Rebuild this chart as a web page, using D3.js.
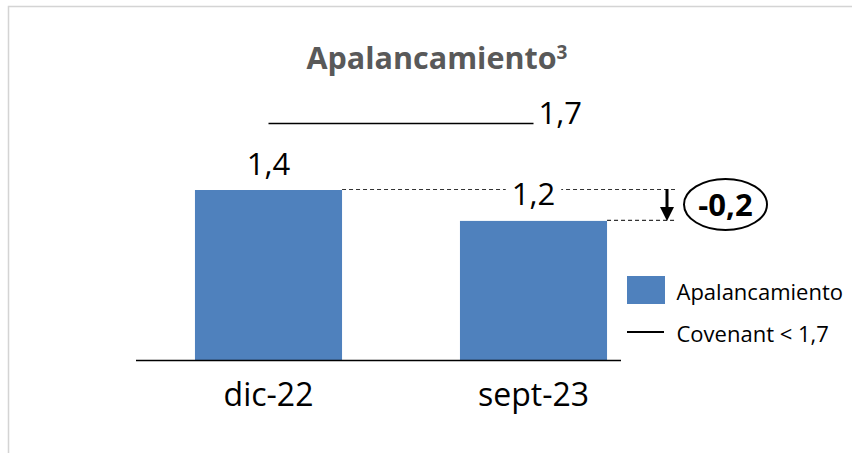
<!DOCTYPE html>
<html>
<head>
<meta charset="utf-8">
<script src="https://cdn.jsdelivr.net/npm/d3@7"></script>
<style>
  body { margin: 0; background: #fff; }
  svg { display: block; font-family: 'Open Sans', 'Liberation Sans', sans-serif; }
</style>
</head>
<body>
<svg width="852" height="453"></svg>
<script>
let svg = d3.select('svg');

// data
let categories = ['dic-22', 'sept-23'];
let apalancamiento = [1.4, 1.2];
let covenant = [1.7, 1.7];
let labels = ['1,4', '1,2'];
let covenantLabel = '1,7';
let diffLabel = '-0,2';
let legendLabels = ['Apalancamiento', 'Covenant < 1,7'];

let blue = '#4f81bd';

// outer frame
svg.append('rect')
    .attr('x', 8.5).attr('y', 6.5)
    .attr('width', 900).attr('height', 500)
    .attr('fill', 'none')
    .attr('stroke', '#d4d4d4')
    .attr('stroke-width', 1.5);

let x = d3.scaleBand()
    .domain(categories)
    .range([136, 666])
    .paddingInner(0.445)
    .paddingOuter(0.2225);

// primary axis (bars) doesn't start at zero
let y = d3.scaleLinear()
    .domain([0.3, 1.4])
    .range([360, 190]);

// secondary axis for the covenant line
let y2 = d3.scaleLinear()
    .domain([0, 1.7])
    .range([360, 123.5]);

// title
let title = svg.append('text')
    .attr('x', 437)
    .attr('y', 69)
    .attr('text-anchor', 'middle')
    .attr('fill', '#595959')
    .style('font-weight', 'bold')
    .style('font-size', '30.5px')
    .text('Apalancamiento');
title.append('tspan')
    .attr('dy', -10)
    .style('font-size', '19px')
    .text('3');

// bars
svg.selectAll('.bar')
    .data(apalancamiento)
    .enter().append('rect')
    .attr('class', 'bar')
    .attr('x', (d, i) => x(categories[i]))
    .attr('y', d => y(d))
    .attr('width', x.bandwidth())
    .attr('height', d => y(y.domain()[0]) - y(d))
    .attr('fill', blue);

// baseline
svg.append('line')
    .attr('x1', 136).attr('x2', 621)
    .attr('y1', 360.5).attr('y2', 360.5)
    .attr('stroke', '#000')
    .attr('stroke-width', 1.5);

// category labels
svg.selectAll('.cat')
    .data(categories)
    .enter().append('text')
    .attr('class', 'cat')
    .attr('x', d => x(d) + x.bandwidth() / 2)
    .attr('y', 406)
    .attr('text-anchor', 'middle')
    .style('font-size', '32px')
    .text(d => d);

// dashed guides from the bar tops
let xEnd = 675;
let xs = categories.map(c => x(c) + x.bandwidth());
svg.selectAll('.guide')
    .data(apalancamiento)
    .enter().append('line')
    .attr('class', 'guide')
    .attr('x1', (d, i) => xs[i])
    .attr('x2', xEnd)
    .attr('y1', d => y(d) - 0.5)
    .attr('y2', d => y(d) - 0.5)
    .attr('stroke', '#333')
    .attr('stroke-width', 1.2)
    .attr('stroke-dasharray', '4,3');

// value labels (with white backing)
apalancamiento.forEach((d, i) => {
    let cx = x(categories[i]) + x.bandwidth() / 2;
    let g = svg.append('g');
    let bg = g.append('rect').attr('fill', '#fff');
    let t = g.append('text')
        .attr('x', cx)
        .attr('y', y(d) - 15.5)
        .attr('text-anchor', 'middle')
        .style('font-size', '31px')
        .text(labels[i]);
    let bb = t.node().getBBox();
    bg.attr('x', bb.x - 6).attr('y', bb.y + 4)
        .attr('width', bb.width + 12).attr('height', bb.height - 4);
});

// covenant line (secondary axis)
let line = d3.line()
    .x((d, i) => x(categories[i]) + x.bandwidth() / 2)
    .y(d => y2(d));
svg.append('path')
    .datum(covenant)
    .attr('d', line)
    .attr('fill', 'none')
    .attr('stroke', '#000')
    .attr('stroke-width', 1.5);
svg.append('text')
    .attr('x', x(categories[1]) + x.bandwidth() / 2 + 5)
    .attr('y', y2(covenant[1]))
    .style('font-size', '31px')
    .text(covenantLabel);

// difference arrow
let ax = 667;
let y0 = y(apalancamiento[0]), y1 = y(apalancamiento[1]);
svg.append('line')
    .attr('x1', ax).attr('x2', ax)
    .attr('y1', y0 - 1).attr('y2', y1 - 10)
    .attr('stroke', '#000')
    .attr('stroke-width', 3);
svg.append('path')
    .attr('d', `M${ax - 7},${y1 - 14}L${ax + 7},${y1 - 14}L${ax},${y1}Z`)
    .attr('fill', '#000');

// ellipse with the change
let ecx = 725.5, ecy = (y0 + y1) / 2 - 1;
svg.append('ellipse')
    .attr('cx', ecx).attr('cy', ecy)
    .attr('rx', 41.5).attr('ry', 25.5)
    .attr('fill', '#fff')
    .attr('stroke', '#000')
    .attr('stroke-width', 2);
svg.append('text')
    .attr('x', ecx)
    .attr('y', ecy + 11.5)
    .attr('text-anchor', 'middle')
    .style('font-size', '31px')
    .style('font-weight', 'bold')
    .text(diffLabel);

// legend
let lg = svg.append('g').attr('transform', 'translate(627,0)');
lg.append('rect')
    .attr('x', 0).attr('y', 276)
    .attr('width', 38).attr('height', 28)
    .attr('fill', blue);
lg.append('line')
    .attr('x1', 0).attr('x2', 37)
    .attr('y1', 332).attr('y2', 332)
    .attr('stroke', '#000')
    .attr('stroke-width', 2);
lg.selectAll('.lt')
    .data(legendLabels)
    .enter().append('text')
    .attr('class', 'lt')
    .attr('x', 49.5)
    .attr('y', (d, i) => i ? 342 : 299.5)
    .style('font-size', '22px')
    .text(d => d);
</script>
</body>
</html>
